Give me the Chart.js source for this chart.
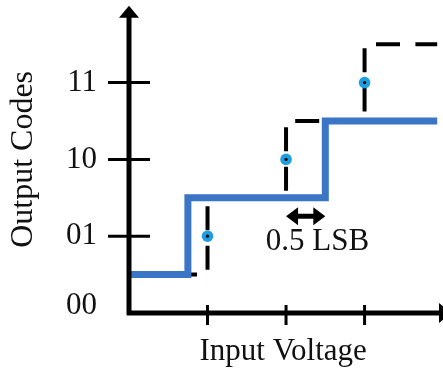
<!DOCTYPE html>
<html>
<head>
<meta charset="utf-8">
<script src="https://cdn.jsdelivr.net/npm/chart.js@4"></script>
<style>
  body { margin: 0; background: #fff; }
  #wrap { width: 443px; height: 370px; }
</style>
</head>
<body>
<div id="wrap"><canvas id="adcChart" width="443" height="370"></canvas></div>
<script>
// output codes on the y axis
const yTickValues = [0, 1, 2, 3];
const yCodeLabels = ["00", "01", "10", "11"];
// x tick marks (no labels)
const xTickValues = [1, 2, 3];

// actual transfer curve (value changes at each x)
const actualX = [0, 0.75, 2.5, 4];
const actualY = [0.5, 1.5, 2.5, 2.5];

// ideal transfer curve (dashed)
const idealX = [0, 1, 2, 3, 4];
const idealY = [0.5, 1.5, 2.5, 3.5, 3.5];

// code centre dots
const dotX = [1, 2, 3];
const dotY = [1, 2, 3];

// 0.5 LSB annotation
const lsbFrom = 2, lsbTo = 2.5, lsbLevel = 1.26;
const lsbText = "0.5 LSB";
const lsbTextPos = [2.4, 0.92];

const toPoints = (xs, ys) => xs.map((x, i) => ({ x: x, y: ys[i] }));
const serif = "'Liberation Serif', 'Times New Roman', serif";

const axesPlugin = {
  id: "axesPlugin",
  afterDatasetsDraw(chart) {
    const ctx = chart.ctx;
    const xs = chart.scales.x, ys = chart.scales.y;
    const left = chart.chartArea.left, bottom = chart.chartArea.bottom;
    ctx.save();
    ctx.fillStyle = "#000";
    ctx.strokeStyle = "#000";

    // y axis with arrow
    ctx.lineWidth = 5;
    ctx.beginPath();
    ctx.moveTo(left, bottom + 2);
    ctx.lineTo(left, chart.chartArea.top + 8);
    ctx.stroke();
    ctx.beginPath();
    ctx.moveTo(left, chart.chartArea.top);
    ctx.lineTo(left - 10, chart.chartArea.top + 12);
    ctx.lineTo(left + 10, chart.chartArea.top + 12);
    ctx.closePath();
    ctx.fill();

    // x axis with arrow (cut by the right edge)
    ctx.beginPath();
    ctx.moveTo(left - 2, bottom);
    ctx.lineTo(chart.width - 2, bottom);
    ctx.stroke();
    ctx.beginPath();
    ctx.moveTo(chart.width + 8, bottom);
    ctx.lineTo(chart.width - 4, bottom - 10);
    ctx.lineTo(chart.width - 4, bottom + 10);
    ctx.closePath();
    ctx.fill();

    // tick marks crossing the axes
    ctx.lineWidth = 3;
    yTickValues.forEach(v => {
      if (v === 0) return;
      const py = ys.getPixelForValue(v);
      ctx.beginPath();
      ctx.moveTo(left - 21, py);
      ctx.lineTo(left + 21, py);
      ctx.stroke();
    });
    xTickValues.forEach(v => {
      const px = xs.getPixelForValue(v);
      ctx.beginPath();
      ctx.moveTo(px, bottom - 8);
      ctx.lineTo(px, bottom + 12);
      ctx.stroke();
    });

    // double arrow for 0.5 LSB
    const ax1 = xs.getPixelForValue(lsbFrom), ax2 = xs.getPixelForValue(lsbTo);
    const ay = ys.getPixelForValue(lsbLevel);
    ctx.lineWidth = 5;
    ctx.beginPath();
    ctx.moveTo(ax1 + 8, ay);
    ctx.lineTo(ax2 - 8, ay);
    ctx.stroke();
    ctx.beginPath();
    ctx.moveTo(ax1, ay);
    ctx.lineTo(ax1 + 12, ay - 9);
    ctx.lineTo(ax1 + 12, ay + 9);
    ctx.closePath();
    ctx.fill();
    ctx.beginPath();
    ctx.moveTo(ax2, ay);
    ctx.lineTo(ax2 - 12, ay - 9);
    ctx.lineTo(ax2 - 12, ay + 9);
    ctx.closePath();
    ctx.fill();

    ctx.font = "31px " + serif;
    ctx.textAlign = "center";
    ctx.textBaseline = "middle";
    ctx.fillStyle = "#111";
    ctx.fillText(lsbText, xs.getPixelForValue(lsbTextPos[0]), ys.getPixelForValue(lsbTextPos[1]));
    ctx.restore();
  }
};

new Chart(document.getElementById("adcChart"), {
  type: "scatter",
  data: {
    datasets: [
      {
        label: "dot centre",
        data: toPoints(dotX, dotY),
        pointRadius: 1.6,
        pointBackgroundColor: "#000",
        pointBorderWidth: 0,
        order: 0
      },
      {
        label: "code centre",
        data: toPoints(dotX, dotY),
        pointRadius: 5.8,
        pointBackgroundColor: "#1c9ee0",
        pointBorderWidth: 0,
        order: 1
      },
      {
        label: "actual",
        data: toPoints(actualX, actualY),
        showLine: true,
        stepped: true,
        borderColor: "#3a75c6",
        borderWidth: 7,
        borderJoinStyle: "miter",
        borderCapStyle: "butt",
        pointRadius: 0,
        order: 2
      },
      {
        label: "ideal",
        data: toPoints(idealX, idealY),
        showLine: true,
        stepped: true,
        borderColor: "#000",
        borderWidth: 4,
        borderDash: [24, 15.4],
        borderDashOffset: 34.8,
        borderCapStyle: "butt",
        pointRadius: 0,
        order: 3
      }
    ]
  },
  options: {
    responsive: false,
    animation: false,
    devicePixelRatio: 1,
    layout: { padding: { top: 5, right: 0, bottom: 0, left: 0 } },
    plugins: { legend: { display: false }, tooltip: { enabled: false } },
    scales: {
      x: {
        type: "linear",
        min: 0,
        max: 3.925,
        grid: { display: false },
        border: { display: false },
        ticks: { display: false },
        title: {
          display: true,
          text: "Input Voltage",
          color: "#111",
          font: { family: serif, size: 31 },
          padding: { top: 0, bottom: 0 }
        },
        afterFit(scale) {
          scale.height = 57;
          scale.paddingLeft = 0;
          scale.paddingRight = 0;
        }
      },
      y: {
        type: "linear",
        min: 0,
        max: 4,
        grid: { display: false },
        border: { display: false },
        afterBuildTicks(scale) {
          scale.ticks = yTickValues.map(v => ({ value: v }));
        },
        ticks: {
          color: "#111",
          // the "00" label sits a little above the x axis
          font: ctx => ({ family: serif, size: 31, lineHeight: ctx.index === 0 ? "14px" : 1.2 }),
          padding: 24,
          callback: (value, i) => (i === 0 ? [yCodeLabels[i], ""] : yCodeLabels[i])
        },
        title: {
          display: true,
          text: "Output Codes",
          color: "#111",
          font: { family: serif, size: 32 },
          padding: { top: 4, bottom: 0 }
        },
        afterFit(scale) {
          scale.width = 129;
          scale.paddingTop = 0;
          scale.paddingBottom = 0;
        }
      }
    }
  },
  plugins: [axesPlugin]
});
</script>
</body>
</html>
